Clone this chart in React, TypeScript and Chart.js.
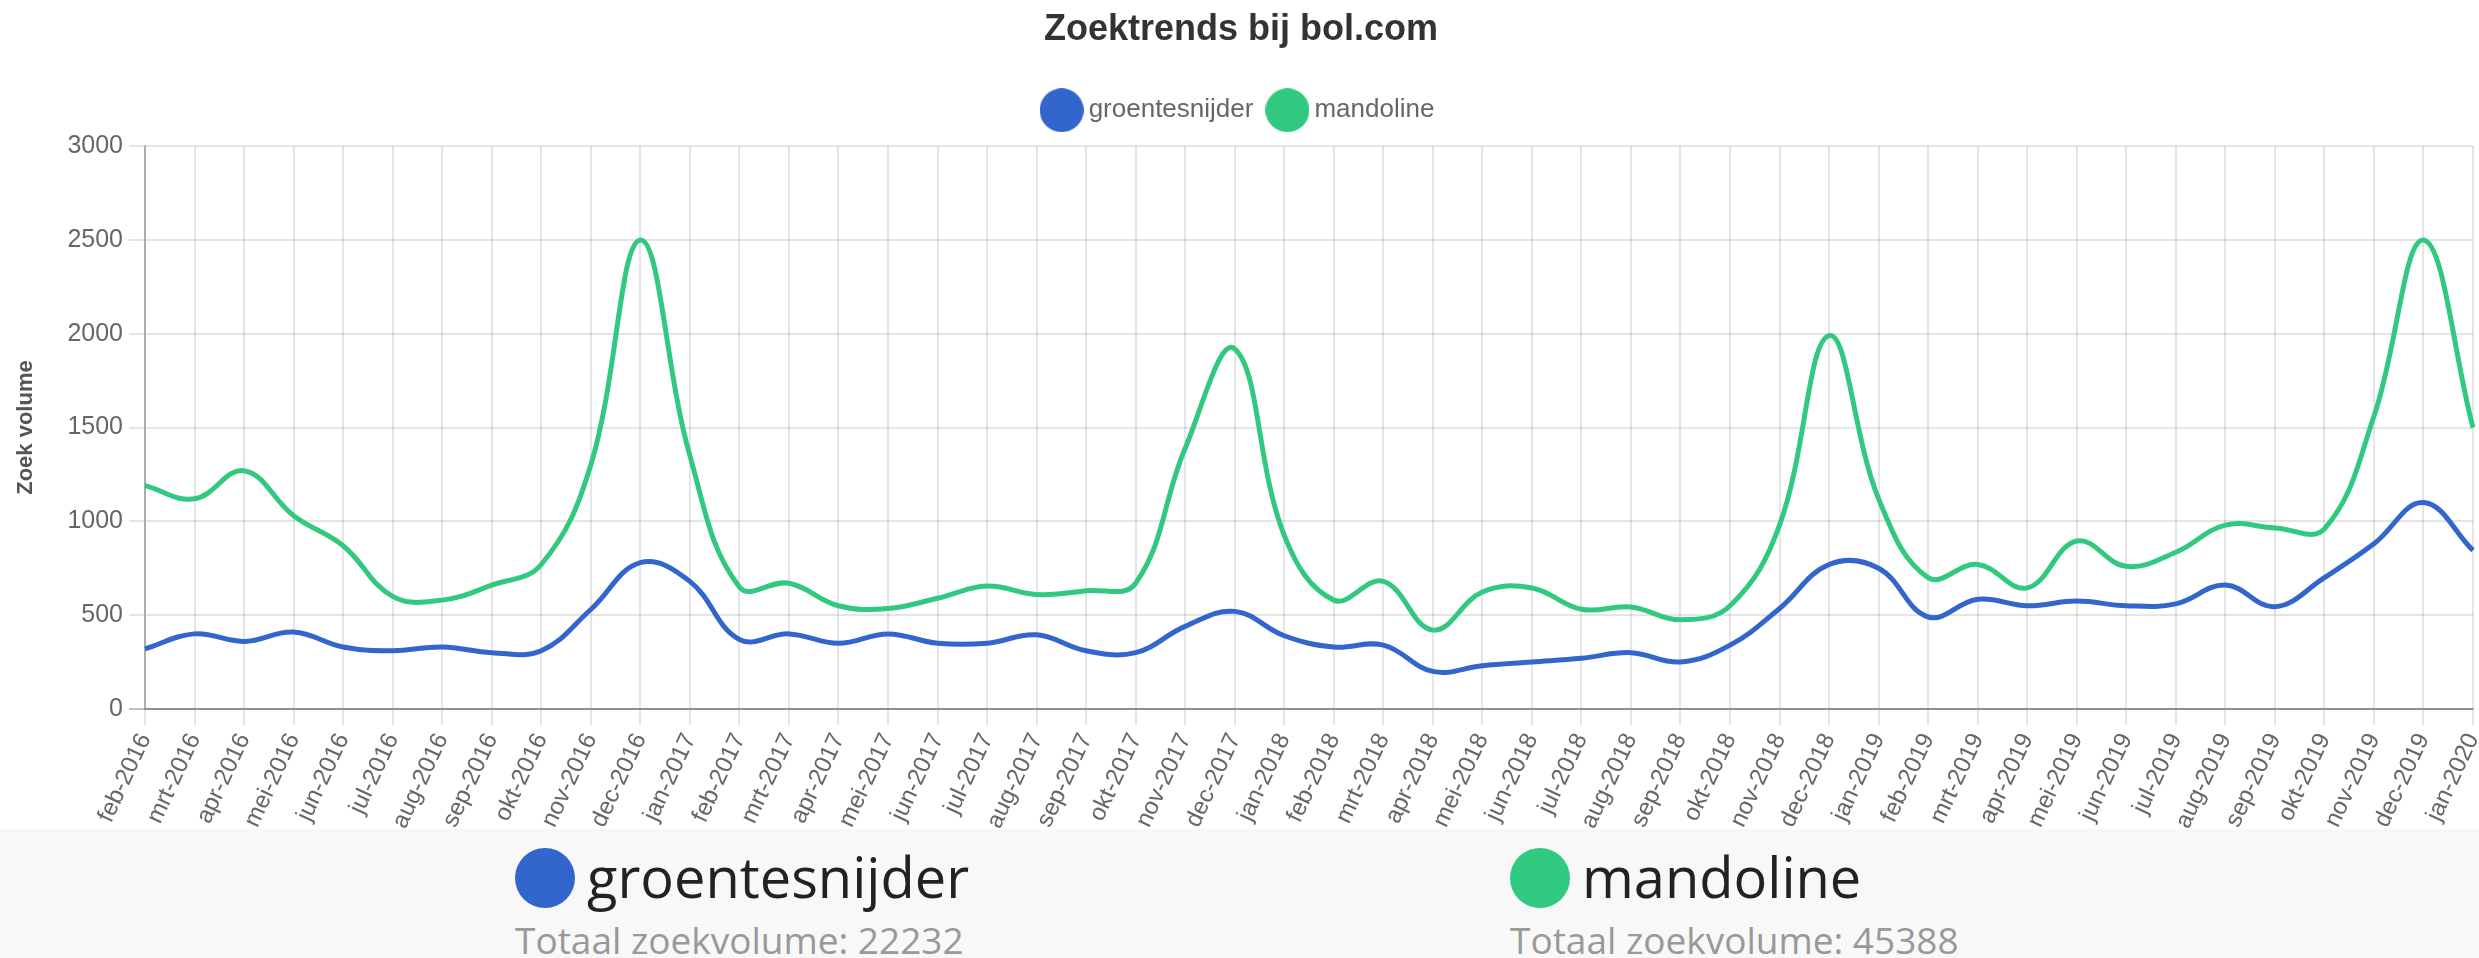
import React, { useEffect, useRef } from "react";
import { Chart, registerables } from "chart.js";

Chart.register(...registerables);

const labels = [
  "feb-2016", "mrt-2016", "apr-2016", "mei-2016", "jun-2016", "jul-2016", "aug-2016", "sep-2016", "okt-2016", "nov-2016", "dec-2016", "jan-2017",
  "feb-2017", "mrt-2017", "apr-2017", "mei-2017", "jun-2017", "jul-2017", "aug-2017", "sep-2017", "okt-2017", "nov-2017", "dec-2017", "jan-2018",
  "feb-2018", "mrt-2018", "apr-2018", "mei-2018", "jun-2018", "jul-2018", "aug-2018", "sep-2018", "okt-2018", "nov-2018", "dec-2018", "jan-2019",
  "feb-2019", "mrt-2019", "apr-2019", "mei-2019", "jun-2019", "jul-2019", "aug-2019", "sep-2019", "okt-2019", "nov-2019", "dec-2019", "jan-2020",
];

const groentesnijder = [
  320, 400, 360, 410, 330, 310, 330, 300, 310, 530, 780, 680,
  370, 400, 350, 400, 350, 350, 395, 310, 300, 440, 520, 390,
  330, 340, 200, 230, 250, 270, 300, 250, 340, 535, 770, 750,
  490, 585, 550, 575, 550, 560, 660, 545, 700, 880, 1100, 845,
];

const mandoline = [
  1190, 1120, 1270, 1030, 870, 600, 580, 660, 770, 1300, 2500, 1350,
  650, 670, 550, 535, 590, 655, 610, 630, 670, 1390, 1920, 925,
  580, 680, 420, 623, 645, 531, 543, 475, 550, 980, 1990, 1120,
  700, 770, 645, 895, 760, 835, 980, 965, 960, 1560, 2500, 1500,
];

const yTicks = { min: 0, max: 3000, step: 500 };

const seriesNames = ["groentesnijder", "mandoline"];
const seriesColors = ["#3366cc", "#31c97f"];
const totals = [22232, 45388];

const chartTitle = "Zoektrends bij bol.com";
const yAxisTitle = "Zoek volume";

function circleImage(color: string, d: number) {
  const c = document.createElement("canvas");
  c.width = d;
  c.height = d;
  const ctx = c.getContext("2d")!;
  ctx.fillStyle = color;
  ctx.beginPath();
  ctx.arc(d / 2, d / 2, d / 2, 0, Math.PI * 2);
  ctx.fill();
  return c;
}

const legendSpacer = {
  id: "legendSpacer",
  beforeInit(chart: any) {
    const legend = chart.legend;
    if (!legend) return;
    const fit = legend.fit;
    legend.fit = function () {
      fit.call(this);
      this.height += 13;
    };
  },
};

function LineChart() {
  const ref = useRef<HTMLCanvasElement | null>(null);
  useEffect(() => {
    if (!ref.current) return;
    Chart.defaults.font.family = "'Liberation Sans', Arial, sans-serif";
    const imgs = seriesColors.map((c) => circleImage(c, 44));
    const grid = "rgba(0,0,0,0.1)";
    const chart = new Chart(ref.current, {
      type: "line",
      data: {
        labels,
        datasets: [
          {
            label: seriesNames[0],
            data: groentesnijder,
            borderColor: seriesColors[0],
            backgroundColor: seriesColors[0],
            borderWidth: 5,
            pointRadius: 0,
            tension: 0.4,
            fill: false,
          },
          {
            label: seriesNames[1],
            data: mandoline,
            borderColor: seriesColors[1],
            backgroundColor: seriesColors[1],
            borderWidth: 5,
            pointRadius: 0,
            tension: 0.4,
            fill: false,
          },
        ],
      },
      plugins: [legendSpacer],
      options: {
        responsive: true,
        maintainAspectRatio: false,
        animation: false,
        layout: { padding: { left: 9, right: 6, top: 0, bottom: 0 } },
        plugins: {
          title: {
            display: true,
            text: chartTitle,
            color: "#333",
            font: { size: 36, weight: "bold" },
            padding: { top: 8, bottom: 26 },
          },
          legend: {
            labels: {
              usePointStyle: true,
              pointStyleWidth: 28,
              color: "#666",
              font: { size: 26 },
              padding: 20,
              generateLabels: (c: any) =>
                Chart.defaults.plugins.legend.labels
                  .generateLabels(c)
                  .map((l: any, i: number) => ({ ...l, pointStyle: imgs[i] })),
            },
          },
          tooltip: { enabled: false },
        },
        scales: {
          x: {
            grid: { color: grid, lineWidth: 2, tickLength: 16 },
            border: { color: "rgba(0,0,0,0.25)", width: 2 },
            ticks: {
              color: "#666",
              font: { size: 24 },
              minRotation: 65,
              maxRotation: 65,
              autoSkip: false,
              padding: 4,
            },
            afterFit: (scale: any) => {
              scale.paddingRight = 0;
            },
          },
          y: {
            min: yTicks.min,
            max: yTicks.max,
            grid: {
              lineWidth: 2,
              tickLength: 16,
              color: (ctx: any) => (ctx.tick && ctx.tick.value === 0 ? "rgba(0,0,0,0.25)" : grid),
            },
            border: { color: "rgba(0,0,0,0.25)", width: 2 },
            ticks: {
              stepSize: yTicks.step,
              color: "#666",
              font: { size: 25 },
              padding: 6,
              callback: (v: any) => String(v),
            },
            title: {
              display: true,
              text: yAxisTitle,
              color: "#555",
              font: { size: 22, weight: "bold" },
              padding: { top: 4, bottom: 22 },
            },
          },
        },
      },
    });
    return () => chart.destroy();
  }, []);
  return <canvas ref={ref} />;
}

export default function App() {
  const font = "'Open Sans', 'Noto Sans', sans-serif";
  const cols = [515, 1510];
  return (
    <div style={{ position: "absolute", left: 0, top: 0, width: 2479, height: 958, overflow: "hidden", background: "#fff" }}>
      <div style={{ position: "absolute", left: 0, top: 0, width: 2479, height: 837 }}>
        <LineChart />
      </div>
      <div style={{ position: "absolute", left: 0, top: 829, width: 2479, height: 129, background: "#f8f8f8" }}>
        {seriesNames.map((name, i) => (
          <React.Fragment key={name}>
            <div
              style={{
                position: "absolute",
                left: cols[i],
                top: 19,
                width: 60,
                height: 60,
                borderRadius: "50%",
                background: seriesColors[i],
              }}
            />
            <div
              style={{
                position: "absolute",
                left: cols[i] + 72,
                top: 19,
                fontFamily: font,
                fontSize: 56,
                lineHeight: "56px",
                color: "#222",
                whiteSpace: "nowrap",
              }}
            >
              {name}
            </div>
            <div
              style={{
                position: "absolute",
                left: cols[i],
                top: 92,
                fontFamily: font,
                fontSize: 37,
                lineHeight: "37px",
                color: "#999",
                whiteSpace: "nowrap",
              }}
            >
              {"Totaal zoekvolume: " + totals[i]}
            </div>
          </React.Fragment>
        ))}
      </div>
    </div>
  );
}
